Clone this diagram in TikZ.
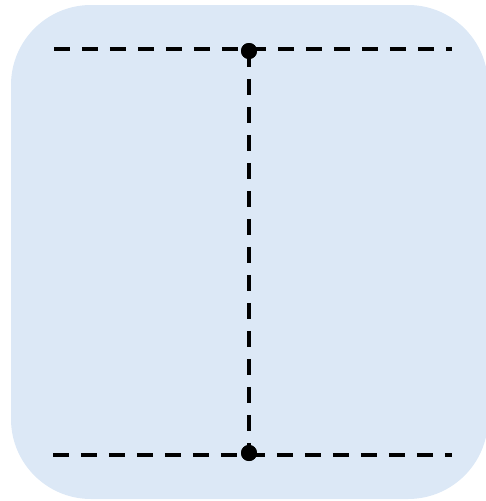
\documentclass[tikz,border=0pt]{standalone}
\usepackage{tikz}
\usetikzlibrary{
    arrows.meta,
    positioning
}
\usepackage{xcolor}
\definecolor{panelblue}{RGB}{220,232,246}

\begin{document}
\begin{tikzpicture}[
        x=0.02cm,
        y=-0.02cm,
        panel/.style={
            fill=panelblue,
            rounded corners=1.6cm
        },
        wire/.style={
            line width=0.08cm,
            dash pattern=on 0.32cm off 0.24cm
        },
        vertex/.style={
            circle,
            fill=black,
            inner sep=0pt,
            minimum size=0.32cm
        }
    ]
        \useasboundingbox (0,0) rectangle (485,501);
        \fill[panel] (11,5) rectangle (488,499);
        \coordinate (L1) at (54,49);
        \coordinate (R1) at (452,49);
        \coordinate (L2) at (53,455);
        \coordinate (R2) at (452,455);
        \node[vertex] (V1) at (249,51) {};
        \node[vertex] (V2) at (249,453) {};
        \draw[wire] (L1) -- (R1);
        \draw[wire] (L2) -- (R2);
        \draw[wire] (V1.center) -- (V2.center);
        \node[vertex] at (V1) {};
        \node[vertex] at (V2) {};
    \end{tikzpicture}
\end{document}
